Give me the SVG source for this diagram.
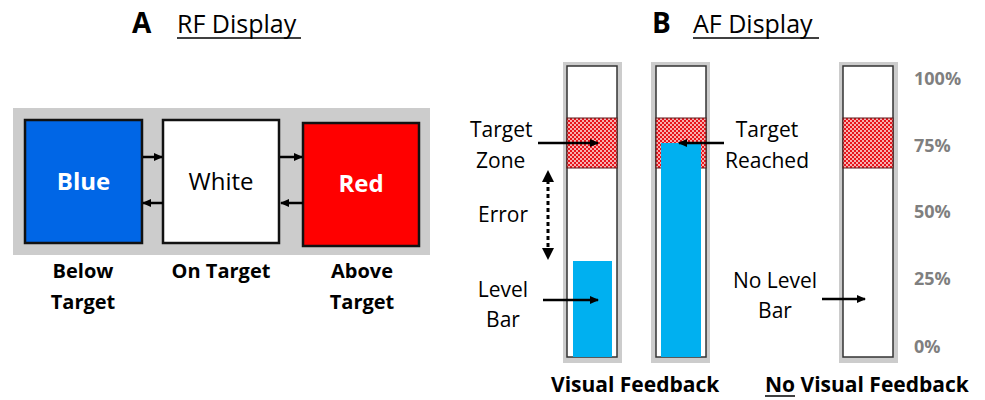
<svg xmlns="http://www.w3.org/2000/svg" width="985" height="400" viewBox="0 0 985 400">
<style>
text{font-family:"Open Sans","Liberation Sans",sans-serif;fill:#000}
.b{font-weight:bold}
.lbl{font-size:20px;font-weight:bold;text-anchor:middle}
.t{font-size:21px}
.pct{font-size:18px;font-weight:bold;fill:#7f7f7f}
.box{stroke:#111;stroke-width:2.5}
.conn{stroke:#000;stroke-width:2.5;fill:none;marker-end:url(#ah)}
.frame{fill:#cccccc}
.inner{fill:#fff;stroke:#333;stroke-width:1.5}
.zone{fill:url(#chk);stroke:#5a1a1a;stroke-width:1}
.lvl{fill:#00b0f0}
</style>
<defs>
<marker id="ah" markerWidth="10" markerHeight="10" refX="8" refY="5" orient="auto" markerUnits="userSpaceOnUse">
<path d="M0,1 L9,5 L0,9 Z" fill="#000"/>
</marker>
<pattern id="chk" width="4" height="4" patternUnits="userSpaceOnUse">
<rect width="4" height="4" fill="#f7b0b0"/>
<rect width="2" height="2" fill="#e8141c"/>
<rect x="2" y="2" width="2" height="2" fill="#e8141c"/>
</pattern>
</defs>

<!-- Titles -->
<g id="titleA">
<text x="132" y="33" class="b" style="font-size:28px">A</text>
<text x="177" y="33" style="font-size:25px">RF Display</text>
<line x1="177" y1="38" x2="301" y2="38" stroke="#000" stroke-width="1.5"/>
</g>
<g id="titleB">
<text x="652" y="33" class="b" style="font-size:28px">B</text>
<text x="693" y="33" style="font-size:25px">AF Display</text>
<line x1="693" y1="38" x2="819" y2="38" stroke="#000" stroke-width="1.5"/>
</g>

<!-- Panel A -->
<rect x="13" y="108" width="417" height="147" class="frame"/>
<g id="blue">
<rect x="25" y="120" width="117" height="123" fill="#0066e6" class="box"/>
<text x="83.5" y="190" class="b" style="font-size:24px;fill:#fff;text-anchor:middle">Blue</text>
</g>
<g id="white">
<rect x="163" y="120" width="116" height="123" fill="#fff" class="box"/>
<text x="221" y="190" style="font-size:24px;text-anchor:middle">White</text>
</g>
<g id="red">
<rect x="303" y="123" width="116" height="123" fill="#ff0000" class="box"/>
<text x="361" y="192" class="b" style="font-size:24px;fill:#fff;text-anchor:middle">Red</text>
</g>
<g id="connectors">
<line x1="143" y1="157" x2="162" y2="157" class="conn"/>
<line x1="163" y1="203" x2="143" y2="203" class="conn"/>
<line x1="280" y1="157" x2="302" y2="157" class="conn"/>
<line x1="303" y1="203" x2="281" y2="203" class="conn"/>
</g>
<g id="labelsA">
<text x="83" y="278" class="lbl">Below</text>
<text x="83" y="309" class="lbl">Target</text>
<text x="221" y="278" class="lbl">On Target</text>
<text x="362" y="278" class="lbl">Above</text>
<text x="362" y="309" class="lbl">Target</text>
</g>

<!-- Panel B -->
<g id="bar1">
<rect x="563" y="62" width="59" height="301" class="frame"/>
<rect x="567" y="66" width="50" height="291" class="inner"/>
<rect x="567" y="118" width="50" height="50" class="zone"/>
<rect x="573" y="261" width="39" height="96" class="lvl"/>
</g>
<g id="bar2">
<rect x="651" y="62" width="59" height="301" class="frame"/>
<rect x="656" y="66" width="50" height="291" class="inner"/>
<rect x="656" y="118" width="50" height="50" class="zone"/>
<rect x="661" y="143" width="40" height="214" class="lvl"/>
</g>
<g id="bar3">
<rect x="839" y="62" width="59" height="301" class="frame"/>
<rect x="843" y="66" width="50" height="291" class="inner"/>
<rect x="843" y="118" width="50" height="50" class="zone"/>
</g>

<g id="connectorsB">
<line x1="538" y1="143" x2="598" y2="143" class="conn"/>
<line x1="543" y1="300" x2="598" y2="300" class="conn"/>
<line x1="724" y1="143" x2="679" y2="143" class="conn"/>
<line x1="822" y1="299" x2="865" y2="299" class="conn"/>
<line x1="548" y1="180" x2="548" y2="250" stroke="#000" stroke-width="3" stroke-dasharray="4,3"/>
<path d="M542,182 L548,170 L554,182 Z" fill="#000"/>
<path d="M542,248 L548,260 L554,248 Z" fill="#000"/>
</g>

<g id="labelsB">
<text x="470" y="137" class="t">Target</text>
<text x="476" y="168" class="t">Zone</text>
<text x="478" y="222" class="t">Error</text>
<text x="503" y="297" class="t" text-anchor="middle">Level</text>
<text x="503" y="327" class="t" text-anchor="middle">Bar</text>
<text x="767" y="137" class="t" text-anchor="middle">Target</text>
<text x="767" y="168" class="t" text-anchor="middle">Reached</text>
<text x="775" y="288" class="t" text-anchor="middle">No Level</text>
<text x="775" y="318" class="t" text-anchor="middle">Bar</text>
</g>

<g id="percent">
<text x="914" y="85" class="pct">100%</text>
<text x="914" y="152" class="pct">75%</text>
<text x="914" y="218" class="pct">50%</text>
<text x="914" y="285" class="pct">25%</text>
<text x="914" y="353" class="pct">0%</text>
</g>

<g id="captions">
<text x="551" y="392" class="b" style="font-size:21px">Visual Feedback</text>
<text x="765" y="392" class="b" style="font-size:21px">No Visual Feedback</text>
<line x1="765" y1="396" x2="795" y2="396" stroke="#000" stroke-width="1.5"/>
</g>
</svg>
